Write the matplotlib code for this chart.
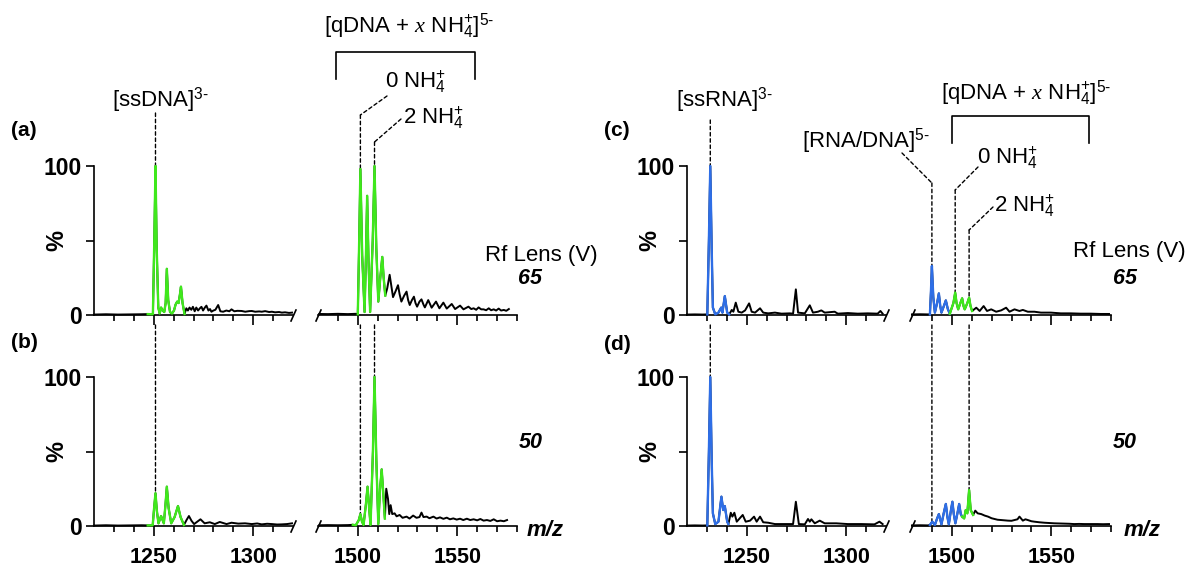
import matplotlib.pyplot as plt
from matplotlib import transforms

plt.rcParams['font.family'] = ['Liberation Sans', 'DejaVu Sans']
plt.rcParams['mathtext.fontset'] = 'custom'
plt.rcParams['mathtext.rm'] = 'Liberation Sans'
plt.rcParams['mathtext.it'] = 'Liberation Serif:italic'
plt.rcParams['mathtext.bf'] = 'Liberation Sans:bold'

W, H = 1190, 567
GREEN = '#3fe81c'
BLUE = '#2e6ee6'

# spectra, (m/z, %)
a_lo = [(1220, 0.3), (1226, 0.5), (1232, 0.3), (1238, 0.4), (1244, 0.5), (1247, 0.6), (1249.6, 0.5),
        (1250.3, 50), (1250.9, 100), (1251.5, 45), (1252.3, 5), (1253.0, 1), (1253.7, 5), (1254.5, 3),
        (1255.3, 2), (1256.0, 8), (1256.6, 31), (1257.3, 10), (1258.2, 2), (1259.2, 1), (1260.2, 3),
        (1261.0, 7), (1261.8, 9), (1262.5, 8), (1263.2, 14), (1263.7, 19), (1264.5, 8), (1265.5, 0.7),
        (1266.4, 4.5), (1267.2, 3), (1268.0, 5), (1268.9, 3.5), (1269.7, 5.5), (1270.6, 2.5), (1271.4, 5),
        (1272.3, 3), (1273.2, 4.5), (1274.0, 5.5), (1274.8, 3), (1275.7, 5), (1276.5, 6.3), (1277.5, 3),
        (1278.3, 4), (1279.0, 2.2), (1280.0, 3), (1281.0, 3.5), (1282.4, 6.7), (1283.5, 2.5), (1284.9, 2.2),
        (1286.5, 3), (1288.0, 2.5), (1289.1, 3.8), (1290.5, 2.5), (1292.0, 2.8), (1294.2, 2.7), (1296.0, 2.2),
        (1298.0, 2.6), (1299.3, 2.7), (1301.0, 2.2), (1303.0, 2.4), (1304.3, 2.2), (1306.0, 2.6), (1308.0, 2.0),
        (1309.4, 2.2), (1311.0, 1.8), (1313.0, 2.0), (1314.4, 1.6), (1316.0, 1.8), (1318.0, 1.4), (1319.5, 1.6)]
a_hi = [(1480.6, 0.7), (1485, 0.6), (1490, 0.8), (1495, 0.6), (1499, 0.8), (1500, 0.5), (1500.7, 50),
        (1501.3, 98), (1502.2, 40), (1503.4, 2), (1504.1, 40), (1504.7, 80), (1505.4, 35), (1506.2, 2),
        (1507.5, 50), (1508.4, 100), (1509.3, 45), (1510.3, 9), (1511.3, 25), (1512.3, 39), (1513.0, 25),
        (1513.8, 13), (1514.8, 18), (1516.0, 27), (1516.8, 20), (1517.7, 12), (1519, 16), (1520.2, 20),
        (1521.0, 14), (1521.9, 9), (1523.3, 13), (1524.5, 15.7), (1525.3, 10), (1526.1, 6.7), (1527.2, 10),
        (1528.2, 12.3), (1529.0, 8), (1529.8, 5.6), (1531, 9), (1532, 10.5), (1533, 7), (1533.7, 5.1),
        (1535.4, 10), (1537.1, 4.9), (1539.3, 9), (1541, 4.5), (1543, 8.3), (1544.7, 4.3), (1547.2, 7.4),
        (1548.9, 4), (1551.4, 6.3), (1553.1, 3.8), (1555.6, 5.6), (1557, 4), (1558.2, 4.5), (1559.5, 3.5),
        (1560.7, 5.1), (1562, 3.8), (1563.2, 3.8), (1564.5, 3.2), (1565.8, 4.5), (1567, 3.2), (1568.3, 3.8),
        (1569.5, 3), (1570.8, 4.3), (1572, 3), (1573.4, 3.4), (1574.6, 2.8), (1575.9, 4)]
b_lo = [(1220, 0.3), (1226, 0.5), (1232, 0.3), (1238, 0.4), (1244, 0.5), (1247, 0.4), (1249.5, 0.5),
        (1250.2, 12), (1250.9, 22), (1251.6, 10), (1252.4, 1.8), (1253.7, 6.7), (1255.1, 1.8), (1255.9, 14),
        (1256.6, 26.4), (1257.5, 12), (1258.8, 1.8), (1260.5, 6), (1262.2, 13.4), (1263.5, 6), (1265.2, 0.7),
        (1266.5, 4), (1267.7, 6.7), (1269, 3.5), (1270.3, 1.3), (1272, 3), (1273.5, 4.5), (1275.6, 1.8),
        (1278.2, 2.5), (1280.7, 1.3), (1283.2, 2.7), (1286.6, 1.3), (1289.1, 2.2), (1292.5, 1.6), (1295.9, 1.8),
        (1299.3, 1.3), (1302, 1.7), (1304.3, 1.1), (1307, 1.5), (1309.4, 1.3), (1312, 1.0), (1314.4, 1.1),
        (1317, 1.3), (1319.5, 1.8)]
b_hi = [(1480.6, 0.5), (1485, 0.6), (1490, 0.5), (1495, 0.6), (1497.5, 0.8), (1499, 0.5), (1500.5, 4),
        (1501.3, 8), (1502.1, 3), (1502.9, 0.7), (1504.1, 15), (1504.9, 26.4), (1505.7, 12), (1506.4, 0.7),
        (1507.6, 50), (1508.4, 100), (1509.3, 45), (1510.3, 1.3), (1511.2, 25), (1512.0, 38), (1512.8, 22),
        (1513.6, 5), (1514.3, 25), (1515.2, 18), (1515.8, 8), (1516.5, 14), (1517.3, 8), (1518.5, 8.5),
        (1519.5, 6.5), (1521, 7.4), (1522.5, 5.5), (1524.5, 6.3), (1526, 5), (1527.8, 7), (1529.5, 5.5),
        (1531, 6), (1532, 9), (1533, 6), (1534.6, 6.3), (1536, 5.2), (1538, 6.3), (1539.6, 5), (1541.3, 5.8),
        (1543, 4.8), (1544.7, 5.6), (1546.3, 4.5), (1548, 5.1), (1549.7, 4.3), (1551.4, 4.9), (1553, 4),
        (1554.8, 4.9), (1556.5, 4), (1558.2, 4.5), (1560, 3.8), (1561.6, 4.7), (1563.2, 3.6), (1564.9, 4),
        (1566.6, 3.4), (1568.3, 4.5), (1570, 3.2), (1571.7, 3.6), (1573.4, 3.2), (1575, 4)]
c_lo = [(1220, 0.3), (1224, 0.4), (1228, 0.3), (1230.2, 0.4), (1231.0, 50), (1231.7, 100), (1232.4, 45),
        (1233, 5), (1234.2, 0.4), (1235.8, 1.6), (1237.2, 5), (1237.8, 1.6), (1239, 12.7), (1240.2, 1.6),
        (1241.2, 0.4), (1242.5, 3.4), (1243.3, 2.2), (1244.5, 8.3), (1245.8, 2.2), (1247.5, 1.6), (1249.2, 3.1),
        (1251.2, 7.8), (1252.5, 2.2), (1254.2, 1.6), (1256.7, 4.5), (1258.3, 1.6), (1260.8, 1.1), (1264.2, 1.6),
        (1267.5, 0.9), (1271.7, 1.1), (1273.3, 0.9), (1274.7, 17.2), (1275.8, 1.6), (1279.2, 1.1), (1281.7, 6.5),
        (1283.3, 1.6), (1285.8, 2.2), (1287.5, 3.1), (1289.2, 1.6), (1294.2, 2.2), (1295.8, 0.9), (1300.8, 1.3),
        (1305.8, 0.9), (1310.8, 1.1), (1315.8, 0.9), (1317.2, 2.7), (1318.3, 0.9)]
c_hi = [(1480, 0.4), (1484, 0.5), (1488, 0.4), (1489, 0.4), (1489.5, 15), (1490, 32.9), (1490.7, 12),
        (1491.5, 1.6), (1492.6, 8), (1493.5, 14.5), (1494.2, 6), (1494.8, 1.6), (1496, 6), (1497, 9.8),
        (1498, 4), (1499, 0.9), (1500.8, 8), (1501.7, 15), (1502.4, 8), (1503.2, 3.8), (1504.3, 8),
        (1505.2, 11.2), (1505.9, 6), (1506.5, 3.8), (1507.8, 8), (1508.7, 11.6), (1509.4, 6), (1510.2, 2.7),
        (1512.3, 4.9), (1514, 2.7), (1516, 6), (1517.7, 2.7), (1519.8, 3.8), (1522.3, 2.2), (1524.8, 3.1),
        (1527.3, 4.9), (1529, 2.2), (1531.5, 3.8), (1534, 2.7), (1535.7, 3.4), (1538.2, 2.2), (1541.5, 2.2),
        (1544.8, 1.6), (1549.8, 1.6), (1554.8, 1.1), (1559.8, 1.1), (1564.8, 0.9), (1569.8, 0.9),
        (1574.8, 0.7), (1579, 0.7)]
d_lo = [(1220, 0.3), (1224, 0.4), (1228, 0.3), (1230.2, 0.4), (1231.0, 50), (1231.7, 100), (1232.4, 45),
        (1233, 8.5), (1234.2, 1.3), (1235.8, 2.9), (1236.6, 12), (1237.3, 19.7), (1238.2, 10.7), (1239, 13.4),
        (1240.2, 2.9), (1240.8, 1.3), (1242, 8.9), (1242.8, 6.3), (1243.8, 8.9), (1245, 2.9), (1248, 7.4),
        (1249.5, 2.9), (1251.7, 3.6), (1253.7, 6.3), (1255, 2.9), (1256.7, 6.3), (1258.3, 2.5), (1260.8, 2.2),
        (1264.2, 1.3), (1269.2, 1.3), (1273.3, 1.3), (1274.7, 16.3), (1276.2, 1.3), (1279.2, 1.1), (1280.8, 4.7),
        (1281.7, 2.9), (1282.5, 4.5), (1284.2, 1.8), (1286.7, 3.6), (1289.2, 1.8), (1295, 1.8), (1300.8, 1.3),
        (1307.5, 1.3), (1314.2, 1.1), (1316.7, 2.9), (1318.3, 1.3)]
d_hi = [(1480, 0.4), (1484, 0.5), (1488, 0.4), (1489, 0.7), (1490.2, 2.9), (1491.5, 0.7), (1492.6, 5),
        (1493.5, 8), (1494.8, 1.1), (1496, 9), (1497, 14.8), (1497.8, 6), (1498.5, 1.1), (1499.5, 10),
        (1500.3, 16.3), (1501, 8), (1501.8, 1.8), (1502.9, 9), (1503.7, 14.8), (1504.5, 8), (1505.2, 6.3),
        (1506.2, 5.1), (1507, 10.7), (1507.8, 8.5), (1508.7, 24.2), (1509.5, 10.7), (1510.7, 7.4),
        (1511.8, 10.3), (1513, 8.5), (1514.8, 8), (1516.5, 7), (1518.2, 6.3), (1520, 5.2), (1521.5, 4.7),
        (1523, 4.2), (1524.8, 4), (1526.5, 3.8), (1528.2, 3.6), (1530, 3.5), (1531.5, 4), (1533, 4.5),
        (1534, 6.3), (1535.7, 3.6), (1537, 4.5), (1538.2, 4), (1540, 3.2), (1541.5, 2.9), (1544, 2.5),
        (1546.5, 2.2), (1549, 2), (1551.5, 1.8), (1554, 1.7), (1556.5, 1.6), (1559, 1.5), (1561.5, 1.3),
        (1564, 1.4), (1566.5, 1.3), (1570, 1.3), (1573.2, 1.3), (1576, 1.2), (1579, 1.3)]

# coloured m/z windows
a_lo_col = [(1247, 1265.5, GREEN)]
a_hi_col = [(1499.5, 1513.8, GREEN)]
b_lo_col = [(1247, 1265.2, GREEN)]
b_hi_col = [(1496.5, 1513.6, GREEN)]
c_lo_col = [(1229.5, 1241.2, BLUE)]
c_hi_col = [(1488.5, 1499, BLUE), (1499, 1510.2, GREEN)]
d_lo_col = [(1229.5, 1240.8, BLUE)]
d_hi_col = [(1488.5, 1505.2, BLUE), (1505.2, 1510.7, GREEN)]

lo_range = (1220, 1320)
hi_range = (1480, 1580)

fig = plt.figure(figsize=(W / 100, H / 100), dpi=100)


def fx(x):
    return x / W


def fy(y):
    return 1 - y / H


def add_ax(x0, x1, ytop, ybot):
    return fig.add_axes([fx(x0), fy(ybot), (x1 - x0) / W, (ybot - ytop) / H])


def draw_trace(ax, pts, colored):
    mz = [p[0] for p in pts]
    pc = [p[1] for p in pts]
    ax.plot(mz, pc, color='black', lw=1.4, clip_on=False, zorder=3)
    for lo, hi, col in colored:
        sub = [p for p in pts if lo <= p[0] <= hi]
        ax.plot([p[0] for p in sub], [p[1] for p in sub], color=col, lw=1.7, clip_on=False, zorder=4)


def style(ax, lo, bottom):
    for s in ['top', 'right']:
        ax.spines[s].set_visible(False)
    for s in ['left', 'bottom']:
        ax.spines[s].set_linewidth(1.2)
    ax.set_ylim(0, 100)
    ax.tick_params(axis='x', which='major', direction='out', length=7, width=1.2,
                   labelsize=15.5, pad=8, labelbottom=bottom)
    ax.tick_params(axis='x', which='minor', direction='out', length=4, width=1.2)
    for lab in ax.get_xticklabels():
        lab.set_fontweight('bold')
    if lo:
        ax.set_xlim(*lo_range)
        ax.set_xticks([1250, 1300])
        ax.set_xticks([1230, 1240, 1260, 1270, 1280, 1290, 1310], minor=True)
        ax.set_yticks([0, 50, 100])
        ax.set_yticklabels(['0', '', '100'], fontweight='bold', fontsize=16.5)
        ax.tick_params(axis='y', direction='out', length=6, width=1.2, pad=3)
        ax.set_ylabel('%', fontsize=17, fontweight='bold')
        ax.yaxis.set_label_coords(-0.13, 0.5)
        ax.plot([1], [0], transform=ax.transAxes, marker=[(-0.45, -1), (0.45, 1)],
                ms=9, mew=1.2, color='black', clip_on=False)
    else:
        ax.set_xlim(*hi_range)
        ax.set_xticks([1500, 1550])
        ax.set_xticks([1490, 1510, 1520, 1530, 1540, 1560, 1570, 1580], minor=True)
        ax.spines['left'].set_visible(False)
        ax.set_yticks([])
        ax.plot([0], [0], transform=ax.transAxes, marker=[(-0.45, -1), (0.45, 1)],
                ms=9, mew=1.2, color='black', clip_on=False)
    ax.patch.set_alpha(0)


DASH = (0, (2.5, 2))


def dashed(ax, p_from, c_from, p_to, c_to):
    ax.annotate('', xy=p_to, xycoords=c_to, xytext=p_from, textcoords=c_from,
                arrowprops=dict(arrowstyle='-', lw=1.0, linestyle=DASH, color='black',
                                shrinkA=0, shrinkB=0), annotation_clip=False)


def leader(ax, mz, pct, corner_y, label_xy):
    # vertical from the peak up to the bend, then slanted to the label
    mixed = ('data', 'figure fraction')
    dashed(ax, (mz, fy(corner_y)), mixed, (mz, pct), 'data')
    if label_xy is not None:
        dashed(ax, (fx(label_xy[0]), fy(label_xy[1])), 'figure fraction', (mz, fy(corner_y)), mixed)


def bracket(ax, m0, m1, ytop, ybot):
    tr = transforms.blended_transform_factory(ax.transData, fig.transFigure)
    ax.plot([m0, m0, m1, m1], [fy(ybot), fy(ytop), fy(ytop), fy(ybot)], color='black',
            lw=1.2, transform=tr, clip_on=False)


ax_a1 = add_ax(94, 293, 166, 315)
ax_a2 = add_ax(318, 517, 166, 315)
ax_b1 = add_ax(94, 293, 377, 526)
ax_b2 = add_ax(318, 517, 377, 526)
ax_c1 = add_ax(687, 886, 166, 315)
ax_c2 = add_ax(912, 1111, 166, 315)
ax_d1 = add_ax(687, 886, 377, 526)
ax_d2 = add_ax(912, 1111, 377, 526)

for ax, pts, col, lo, bottom in [(ax_a1, a_lo, a_lo_col, True, False), (ax_a2, a_hi, a_hi_col, False, False),
                                 (ax_b1, b_lo, b_lo_col, True, True), (ax_b2, b_hi, b_hi_col, False, True),
                                 (ax_c1, c_lo, c_lo_col, True, False), (ax_c2, c_hi, c_hi_col, False, False),
                                 (ax_d1, d_lo, d_lo_col, True, True), (ax_d2, d_hi, d_hi_col, False, True)]:
    style(ax, lo, bottom)
    draw_trace(ax, pts, col)

# ---- left half: ssDNA / qDNA
leader(ax_a1, 1250.9, 100, 113, None)
leader(ax_b1, 1250.9, 22, 325, None)
leader(ax_a2, 1501.3, 98, 115, (387, 96))
leader(ax_a2, 1508.4, 100, 142, (401, 119))
leader(ax_b2, 1501.3, 8, 325, None)
leader(ax_b2, 1508.4, 100, 325, None)
bracket(ax_a2, 1489, 1559, 52, 79)

# ---- right half: ssRNA / RNA-DNA / qDNA
leader(ax_c1, 1231.7, 100, 120, None)
leader(ax_d1, 1231.7, 100, 325, None)
leader(ax_c2, 1490, 32.9, 183, (902, 153))
leader(ax_c2, 1501.7, 15, 190, (978, 167))
leader(ax_c2, 1508.7, 11.6, 230, (993, 207))
leader(ax_d2, 1490, 2.9, 325, None)
leader(ax_d2, 1508.7, 24.2, 325, None)
bracket(ax_c2, 1500, 1569, 116, 143)

TS = 16
fig.text(fx(112), fy(100), r'[ssDNA]$^{3\text{-}}$', fontsize=TS, va='center')
fig.text(fx(324), fy(26), r'[qDNA + $x$ NH$_4^{+}$]$^{5\text{-}}$', fontsize=TS, va='center')
fig.text(fx(385), fy(82), r'0 NH$_4^{+}$', fontsize=TS, va='center')
fig.text(fx(403), fy(118), r'2 NH$_4^{+}$', fontsize=TS, va='center')
fig.text(fx(676), fy(100), r'[ssRNA]$^{3\text{-}}$', fontsize=TS, va='center')
fig.text(fx(802), fy(141), r'[RNA/DNA]$^{5\text{-}}$', fontsize=TS, va='center')
fig.text(fx(941), fy(93), r'[qDNA + $x$ NH$_4^{+}$]$^{5\text{-}}$', fontsize=TS, va='center')
fig.text(fx(977), fy(158), r'0 NH$_4^{+}$', fontsize=TS, va='center')
fig.text(fx(994), fy(206), r'2 NH$_4^{+}$', fontsize=TS, va='center')

for x, y, s in [(24, 131, '(a)'), (24, 343, '(b)'), (617, 131, '(c)'), (617, 345, '(d)')]:
    fig.text(fx(x), fy(y), s, fontsize=15, fontweight='bold', ha='center', va='center')

for x, y in [(541, 256), (1129, 252)]:
    fig.text(fx(x), fy(y), 'Rf Lens (V)', fontsize=16, ha='center', va='center')
for x, y, s in [(530, 278, '65'), (1125, 279, '65'), (531, 442, '50'), (1125, 442, '50')]:
    fig.text(fx(x), fy(y), s, fontsize=15.5, fontstyle='italic', fontweight='bold', ha='center', va='center')
for x in [545, 1142]:
    fig.text(fx(x), fy(530), 'm/z', fontsize=16, fontstyle='italic', fontweight='bold', ha='center', va='center')

fig.savefig('out.png', dpi=100)
